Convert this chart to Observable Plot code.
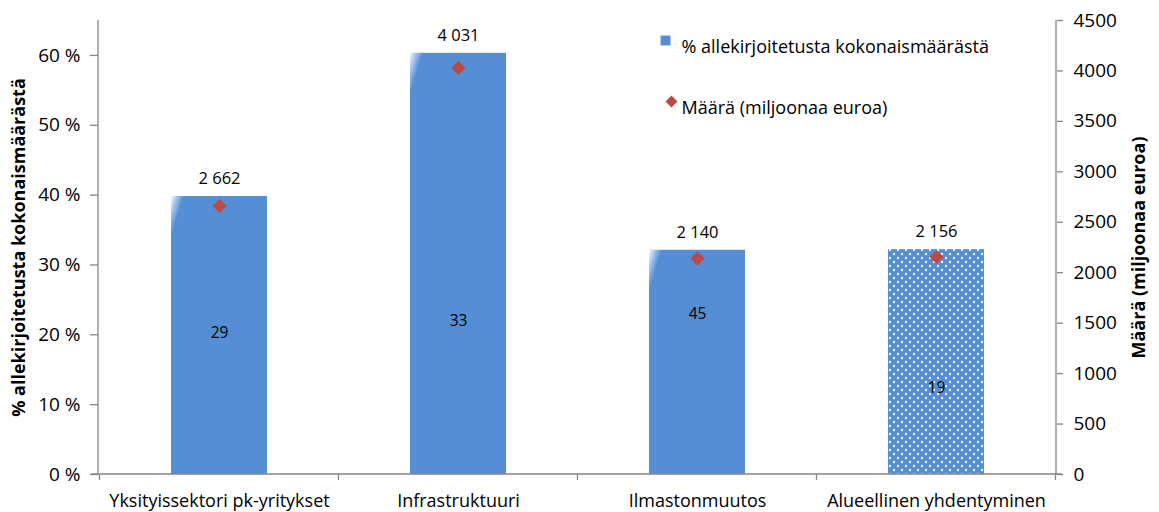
<!DOCTYPE html>
<html><head><meta charset="utf-8">
<script src="https://cdn.jsdelivr.net/npm/d3@7"></script>
<script src="https://cdn.jsdelivr.net/npm/@observablehq/plot@0.6"></script>
<style>
body{margin:0;background:#fff}
#chart svg{font-family:"Open Sans","Noto Sans",sans-serif;}
</style>
</head><body><div id="chart"></div>
<script>
const categories = ["Yksityissektori pk-yritykset", "Infrastruktuuri", "Ilmastonmuutos", "Alueellinen yhdentyminen"];
const shares = [39.8, 60.3, 32.1, 32.2];          // % allekirjoitetusta kokonaismäärästä
const amounts = [2662, 4031, 2140, 2156];        // Määrä (miljoonaa euroa)
const amountLabels = ["2 662", "4 031", "2 140", "2 156"];
const counts = [29, 33, 45, 19];
const countLevels = [20.3, 22.0, 23.0, 12.4];    // % level where the count label sits
const patterned = [false, false, false, true];
const leftTicks = [0, 10, 20, 30, 40, 50, 60];
const rightTicks = [0, 500, 1000, 1500, 2000, 2500, 3000, 3500, 4000, 4500];
const leftMax = 65, rightMax = 4500;
const seriesNames = ["% allekirjoitetusta kokonaismäärästä", "Määrä (miljoonaa euroa)"];
const leftTitle = "% allekirjoitetusta kokonaismäärästä";
const rightTitle = "Määrä (miljoonaa euroa)";

const toLeft = v => v * leftMax / rightMax;
const data = categories.map((c, i) => ({
  cat: c, share: shares[i], amount: amounts[i], amountY: toLeft(amounts[i]),
  label: amountLabels[i], count: counts[i], countY: countLevels[i], patterned: patterned[i]
}));

const BLUE = "#558ED5", RED = "#BA4A46", AXIS = "#868686";
const FONT = "'Open Sans', 'Noto Sans', sans-serif";

const defs = () => {
  const d = d3.create("svg:defs");
  const p = d.append("pattern").attr("id", "dots").attr("patternUnits", "userSpaceOnUse")
    .attr("width", 8).attr("height", 8);
  p.append("rect").attr("width", 8).attr("height", 8).attr("fill", BLUE);
  p.append("circle").attr("cx", 2).attr("cy", 2).attr("r", 1.2).attr("fill", "#fff").attr("fill-opacity", 0.9);
  p.append("circle").attr("cx", 6).attr("cy", 6).attr("r", 1.2).attr("fill", "#fff").attr("fill-opacity", 0.9);
  const g = d.append("linearGradient").attr("id", "shine").attr("x1", 0).attr("y1", 0).attr("x2", 0.5).attr("y2", 0.5);
  g.append("stop").attr("offset", "0").attr("stop-color", "#fff").attr("stop-opacity", 0.95);
  g.append("stop").attr("offset", "0.5").attr("stop-color", "#fff").attr("stop-opacity", 0.45);
  g.append("stop").attr("offset", "1").attr("stop-color", "#fff").attr("stop-opacity", 0);
  return d.node();
};

const axisLines = (index, scales, values, dim) => {
  const g = d3.create("svg:g").attr("stroke", AXIS).attr("stroke-width", 1.3).attr("fill", "none");
  const l = dim.marginLeft, r = dim.width - dim.marginRight;
  const t = dim.marginTop, b = dim.height - dim.marginBottom;
  g.append("line").attr("x1", l).attr("x2", l).attr("y1", t).attr("y2", b);
  g.append("line").attr("x1", r).attr("x2", r).attr("y1", t).attr("y2", b);
  g.append("line").attr("x1", l - 7).attr("x2", r + 6).attr("y1", b).attr("y2", b);
  const x = scales.scales.x;
  const step = x.step, bw = x.bandwidth;
  const bounds = categories.map(c => scales.x(c) - (step - bw) / 2);
  bounds.push(scales.x(categories[categories.length - 1]) + bw + (step - bw) / 2);
  for (const bx of bounds) g.append("line").attr("x1", bx).attr("x2", bx).attr("y1", b).attr("y2", b + 6);
  return g.node();
};

const chart = Plot.plot({
  width: 1159, height: 512,
  marginLeft: 98, marginRight: 103, marginTop: 20, marginBottom: 38,
  style: {fontSize: "18px", fontFamily: FONT, color: "#000", background: "#fff"},
  x: {domain: categories, paddingInner: 0.6, paddingOuter: 0.3, axis: null},
  y: {domain: [0, leftMax], axis: null},
  marks: [
    defs,
    Plot.barY(data.filter(d => !d.patterned), {x: "cat", y: "share", fill: BLUE}),
    Plot.barY(data.filter(d => d.patterned), {x: "cat", y: "share", fill: "url(#dots)"}),
    Plot.barY(data.filter(d => !d.patterned), {x: "cat", y1: d => d.share - 6, y2: "share", insetRight: 83, fill: "url(#shine)"}),
    axisLines,
    Plot.axisY({ticks: leftTicks, tickFormat: d => d + " %", tickSize: 8, tickPadding: 10, stroke: AXIS, strokeWidth: 1.3, fontSize: 19, fill: "#000", label: null}),
    Plot.axisY({anchor: "right", ticks: rightTicks.map(toLeft), tickFormat: (d, i) => String(rightTicks[i]), tickSize: 6, tickPadding: 11, stroke: AXIS, strokeWidth: 1.3, fontSize: 19, fill: "#000", label: null}),
    Plot.axisX({tickSize: 0, tickPadding: 20, fontSize: 18, fill: "#000", label: null}),
    Plot.dot(data, {x: "cat", y: "amountY", symbol: "diamond2", r: 6.4, fill: RED}),
    Plot.text(data, {x: "cat", y: "share", text: "label", dy: -18, fontSize: 16.5, fill: "#000"}),
    Plot.text(data, {x: "cat", y: "countY", text: d => String(d.count), fontSize: 15.5, fill: "#000"}),
    // axis titles
    Plot.text([leftTitle], {frameAnchor: "left", textAnchor: "middle", dx: -79, rotate: -90, fontWeight: "bold", fontSize: 18, fill: "#000"}),
    Plot.text([rightTitle], {frameAnchor: "right", textAnchor: "middle", dx: 83, rotate: -90, fontWeight: "bold", fontSize: 18, fill: "#000"}),
    // legend
    Plot.dot([seriesNames[0]], {frameAnchor: "top-left", dx: 567, dy: 20, symbol: "square", r: 5.6, fill: BLUE}),
    Plot.text([seriesNames[0]], {frameAnchor: "top-left", dx: 583, dy: 20, textAnchor: "start", fontSize: 18, fill: "#000"}),
    Plot.dot([seriesNames[1]], {frameAnchor: "top-left", dx: 573, dy: 81, symbol: "diamond2", r: 5.4, fill: RED}),
    Plot.text([seriesNames[1]], {frameAnchor: "top-left", dx: 583, dy: 81, textAnchor: "start", fontSize: 18, fill: "#000"})
  ]
});
document.getElementById("chart").append(chart);
</script>
</body></html>
